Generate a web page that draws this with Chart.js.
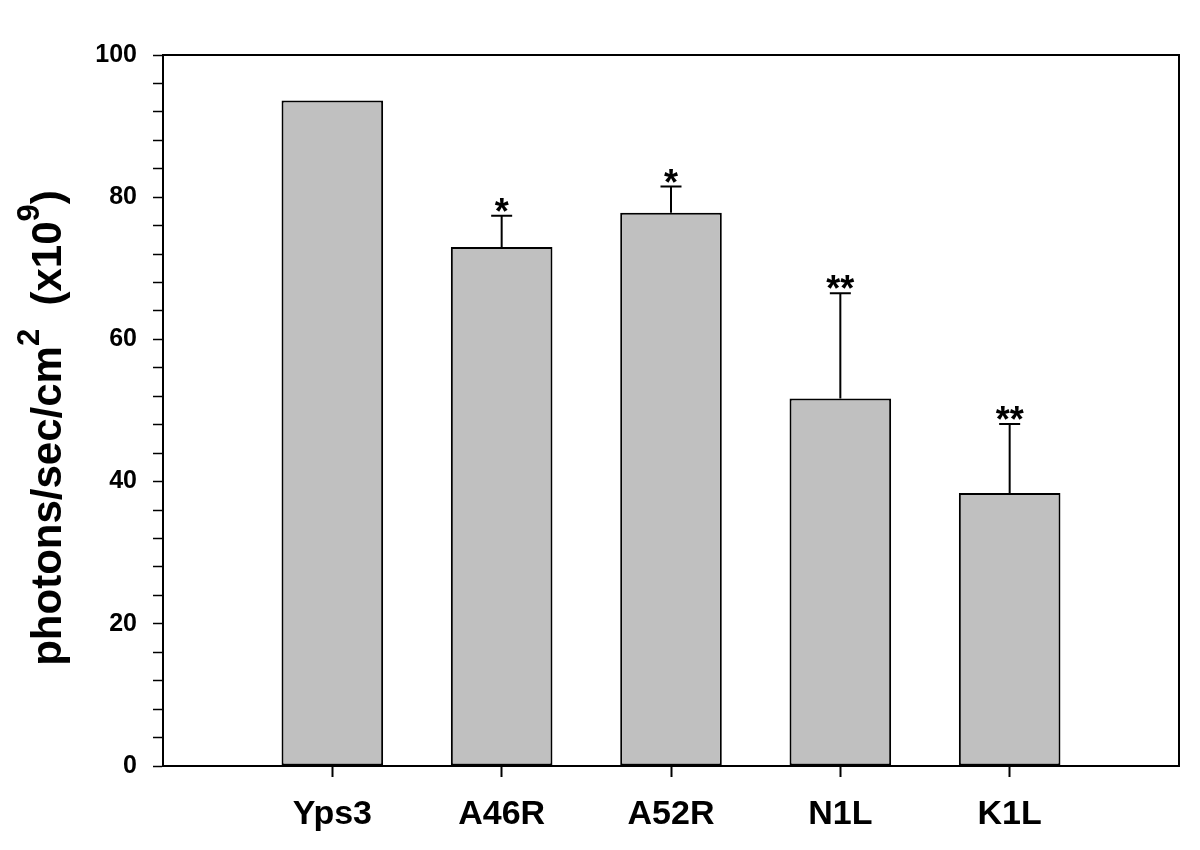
<!DOCTYPE html>
<html>
<head>
<meta charset="utf-8">
<script src="https://cdn.jsdelivr.net/npm/chart.js@4.4.1/dist/chart.umd.min.js"></script>
<style>
  html, body { margin: 0; padding: 0; background: #ffffff; }
  #wrap { width: 1200px; height: 850px; position: relative; }
</style>
</head>
<body>
<div id="wrap"><canvas id="c" width="1200" height="850"></canvas></div>
<script>
// ---- data ----
const categories = ['Yps3', 'A46R', 'A52R', 'N1L', 'K1L'];
const means = [93.6, 73.0, 77.8, 51.7, 38.4];
const upperErrors = [null, 4.4, 3.7, 14.8, 9.7];
const significance = ['', '*', '*', '**', '**'];
const yTickLabelsEvery = 20;
const yAxisTitleParts = [
  { text: 'photons/sec/cm', sup: false },
  { text: '2', sup: true },
  { text: '  (x10', sup: false },
  { text: '9', sup: true },
  { text: ')', sup: false }
];

// padding slots on either side (empty categories)
const labels = [''].concat(categories, ['']);
const barData = [null].concat(means, [null]);
const errData = [null].concat(upperErrors, [null]);
const sigData = [''].concat(significance, ['']);

const FONT = '"Liberation Sans", Arial, Helvetica, sans-serif';

const decorPlugin = {
  id: 'decor',
  afterDatasetsDraw(chart) {
    const ctx = chart.ctx;
    const x = chart.scales.x, y = chart.scales.y;
    ctx.save();
    ctx.strokeStyle = '#000';
    ctx.fillStyle = '#000';
    ctx.lineWidth = 2;
    for (let i = 0; i < barData.length; i++) {
      if (barData[i] == null) continue;
      const cx = x.getPixelForValue(i);
      const top = y.getPixelForValue(barData[i]);
      let markY = top;
      if (errData[i] != null) {
        const cap = y.getPixelForValue(barData[i] + errData[i]);
        ctx.beginPath();
        ctx.moveTo(cx, top);
        ctx.lineTo(cx, cap);
        ctx.moveTo(cx - 10.5, cap);
        ctx.lineTo(cx + 10.5, cap);
        ctx.stroke();
        markY = cap;
      }
      if (sigData[i]) {
        ctx.font = 'bold 36px ' + FONT;
        ctx.textAlign = 'center';
        ctx.textBaseline = 'alphabetic';
        ctx.fillText(sigData[i], cx, markY + 8);
      }
    }
    // plot frame
    const a = chart.chartArea;
    ctx.lineWidth = 2;
    ctx.strokeRect(a.left, a.top, a.right - a.left, a.bottom - a.top);
    ctx.restore();
  },
  afterDraw(chart) {
    // rotated y-axis title with superscripts
    const ctx = chart.ctx;
    ctx.save();
    ctx.fillStyle = '#000';
    ctx.textBaseline = 'alphabetic';
    ctx.textAlign = 'left';
    const mainFont = 'bold 42px ' + FONT;
    const supFont = 'bold 31px ' + FONT;
    let total = 0;
    yAxisTitleParts.forEach(p => {
      ctx.font = p.sup ? supFont : mainFont;
      total += ctx.measureText(p.text).width;
    });
    const centerY = 428;
    ctx.translate(61, centerY);
    ctx.rotate(-Math.PI / 2);
    let px = -total / 2;
    yAxisTitleParts.forEach(p => {
      ctx.font = p.sup ? supFont : mainFont;
      ctx.fillText(p.text, px, p.sup ? -22 : 0);
      px += ctx.measureText(p.text).width;
    });
    ctx.restore();
  }
};

new Chart(document.getElementById('c'), {
  type: 'bar',
  data: {
    labels: labels,
    datasets: [{
      data: barData,
      backgroundColor: '#c0c0c0',
      borderColor: '#000000',
      borderWidth: 2,
      borderSkipped: false,
      barPercentage: 0.6,
      categoryPercentage: 1.0
    }]
  },
  options: {
    responsive: false,
    animation: false,
    devicePixelRatio: 1,
    layout: { padding: { left: 0, right: 21, top: 55, bottom: 0 } },
    plugins: { legend: { display: false }, tooltip: { enabled: false }, title: { display: false } },
    scales: {
      x: {
        offset: false,
        afterFit(scale) { scale.height = 84; },
        border: { display: true, color: '#000', width: 2 },
        grid: {
          display: true,
          offset: false,
          drawOnChartArea: false,
          drawTicks: true,
          tickLength: 11,
          tickWidth: 2,
          tickColor: (c) => (c.index === 0 || c.index === labels.length - 1) ? 'rgba(0,0,0,0)' : '#000'
        },
        ticks: {
          color: '#000',
          padding: 17,
          maxRotation: 0,
          autoSkip: false,
          font: { family: FONT, size: 34, weight: 'bold' }
        }
      },
      y: {
        min: 0,
        max: 100,
        afterFit(scale) { scale.width = 163; },
        border: { display: true, color: '#000', width: 2 },
        grid: {
          display: true,
          drawOnChartArea: false,
          drawTicks: true,
          tickLength: 10,
          tickWidth: 1.5,
          tickColor: '#000'
        },
        ticks: {
          stepSize: 4,
          color: '#000',
          padding: 16,
          autoSkip: false,
          font: { family: FONT, size: 25, weight: 'bold' },
          callback: (v) => (v % yTickLabelsEvery === 0 ? String(v) : '')
        }
      }
    }
  },
  plugins: [decorPlugin]
});
</script>
</body>
</html>
